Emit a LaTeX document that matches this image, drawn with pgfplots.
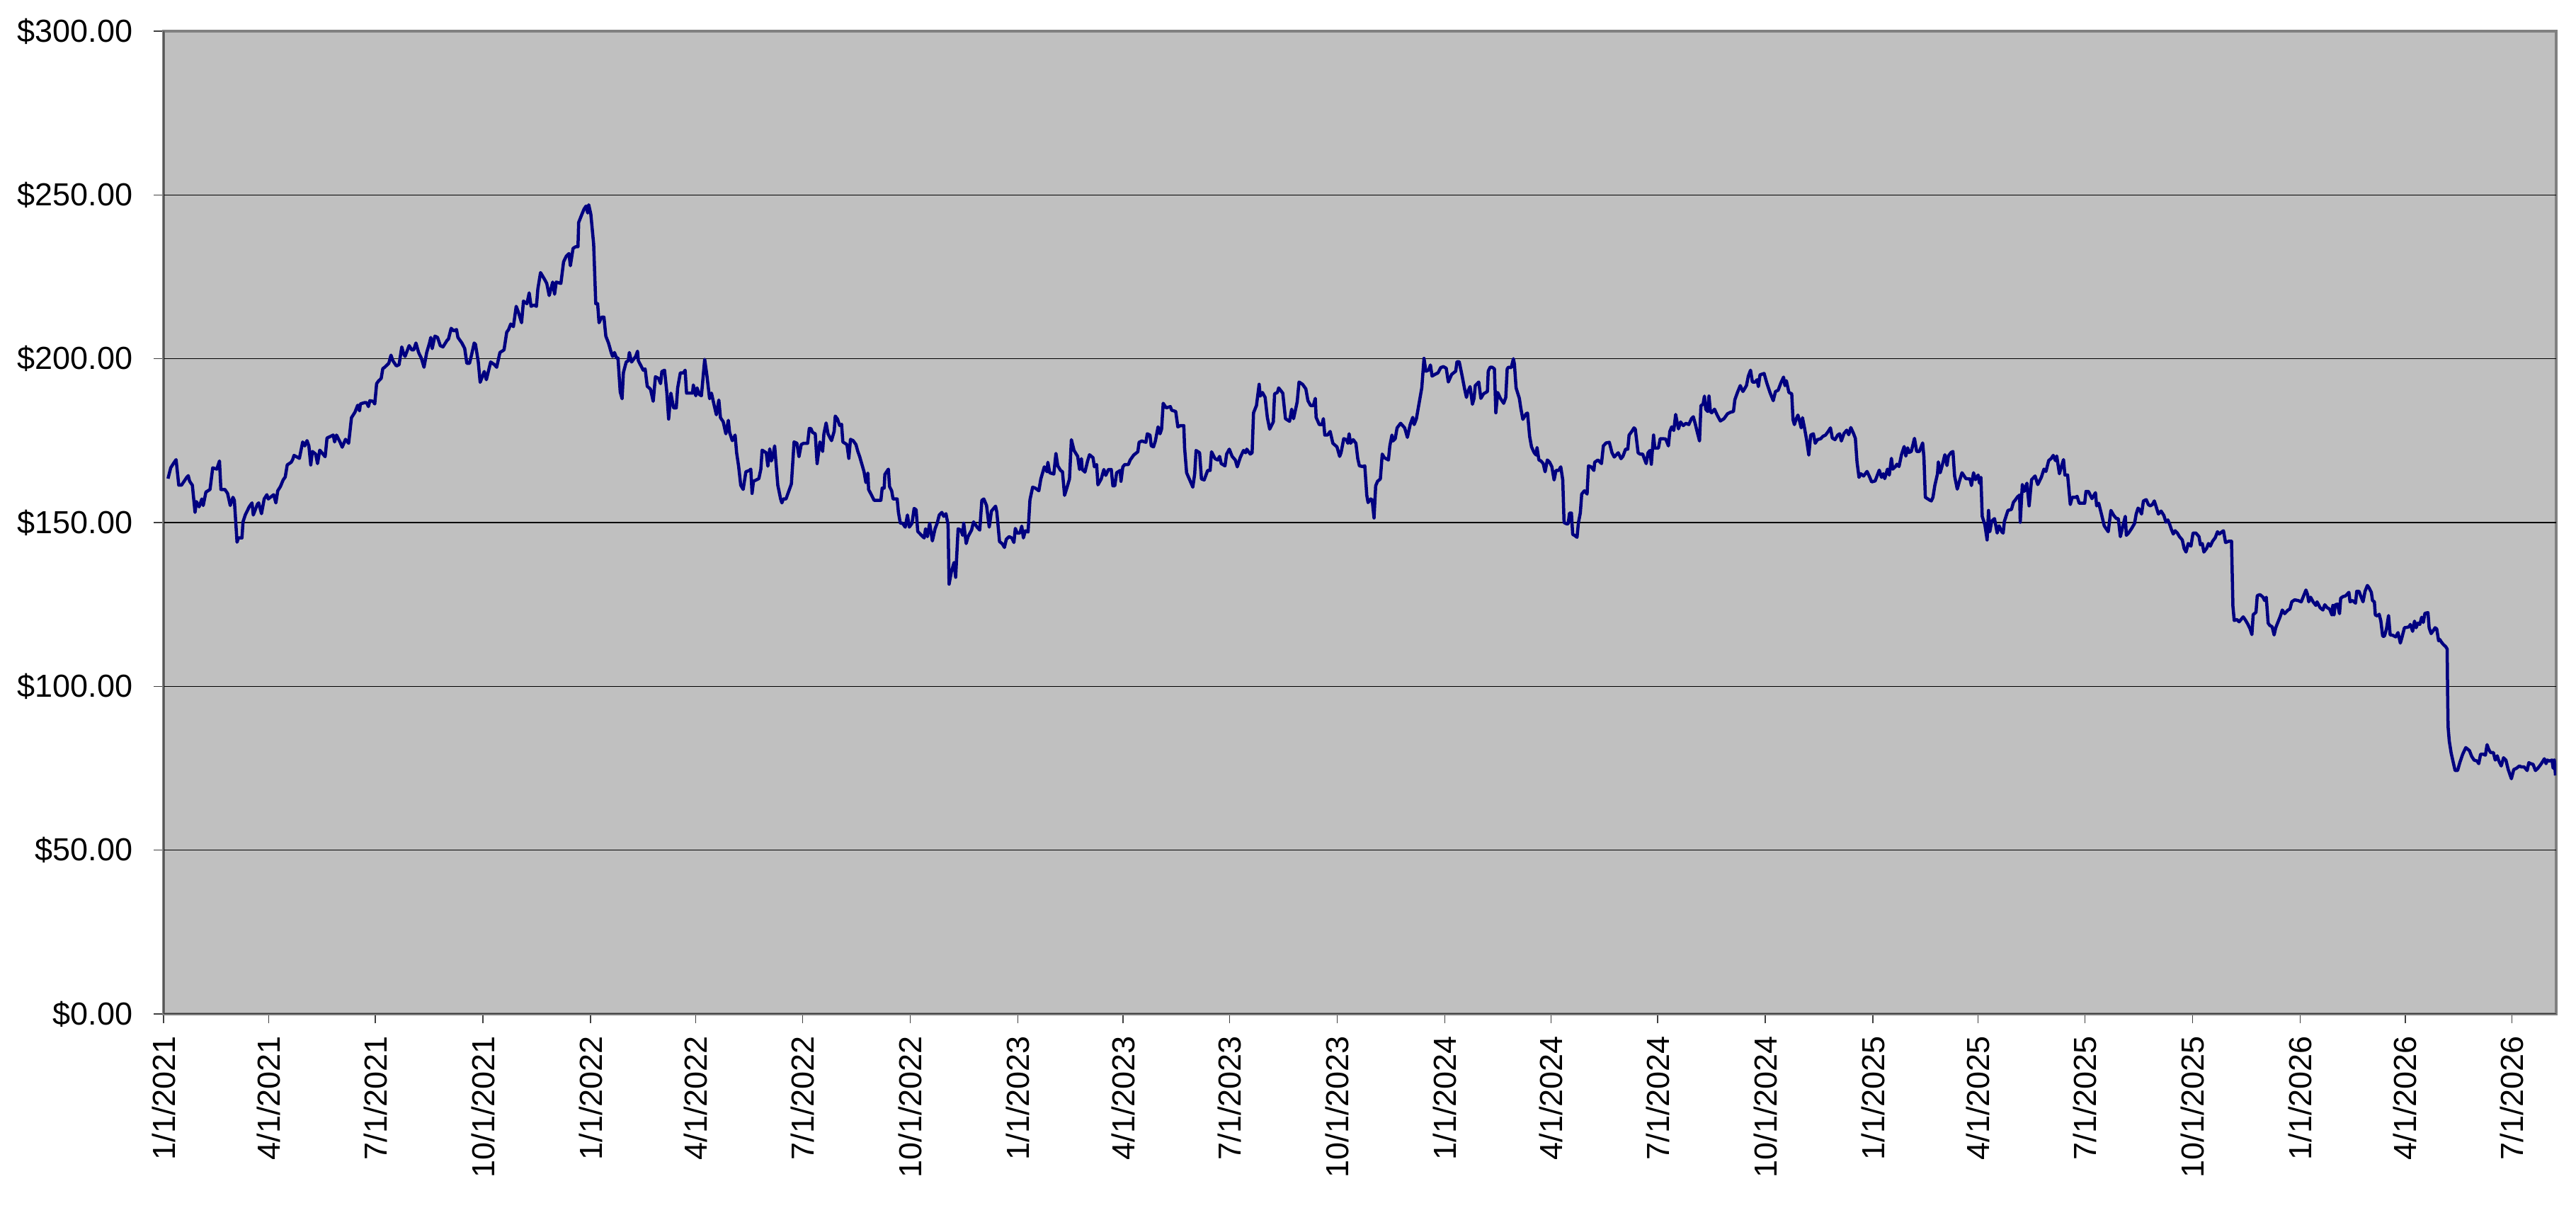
\documentclass[border=0pt]{standalone}
\usepackage{pgfplots}
\pgfplotsset{compat=1.18}
\usepackage{fontspec}
\setmainfont{Liberation Sans}
\definecolor{plotbg}{RGB}{192,192,192}
\definecolor{navyline}{RGB}{0,0,128}
\definecolor{framegray}{RGB}{128,128,128}
\begin{document}
\begin{tikzpicture}
\begin{axis}[
  scale only axis, width=675.8pt, height=277.6pt,
  xmin=0, xmax=2045, ymin=0, ymax=300,
  axis background/.style={fill=plotbg},
  axis line style={draw=framegray, line width=0.7pt},
  ytick={0,50,100,150,200,250,300},
  yticklabels={\$0.00,\$50.00,\$100.00,\$150.00,\$200.00,\$250.00,\$300.00},
  xtick={0,90,181,273,365,455,546,638,730,820,911,1003,1095,1186,1277,1369,1461,1551,1642,1734,1826,1916,2007},
  xticklabels={1/1/2021,4/1/2021,7/1/2021,10/1/2021,1/1/2022,4/1/2022,7/1/2022,10/1/2022,1/1/2023,4/1/2023,7/1/2023,10/1/2023,1/1/2024,4/1/2024,7/1/2024,10/1/2024,1/1/2025,4/1/2025,7/1/2025,10/1/2025,1/1/2026,4/1/2026,7/1/2026},
  x tick label style={rotate=90, anchor=east},
  tick align=outside, tick pos=left,
  major tick length=2.7pt,
  every tick/.append style={black!75, line width=0.25pt},
  extra y ticks={50,100,150,200,250},
  extra y tick labels={},
  extra y tick style={grid=major, major tick length=0pt},
  major grid style={black, line width=0.3pt},
  tick label style={font=\fontsize{9}{10}\selectfont},
  yticklabel style={xshift=-2.5pt},
]
\addplot[navyline, line width=0.9pt, line join=round, mark=none] table {
3.8 163.4
6.1 166.7
8.4 168.0
10.7 169.2
13.0 161.4
15.3 161.4
20.0 163.9
21.1 164.3
22.3 162.6
24.6 161.4
26.9 153.1
28.1 156.4
30.4 154.8
32.7 157.2
33.9 155.2
36.2 159.3
39.7 160.1
42.0 166.7
45.5 166.3
47.8 168.8
49.0 160.1
52.4 160.1
54.7 158.9
57.0 155.2
59.3 157.7
60.5 156.8
62.8 144.0
64.0 145.3
67.0 145.3
67.9 150.2
69.8 152.3
73.2 154.8
75.6 156.0
76.7 152.3
80.2 155.6
81.3 156.0
83.7 152.7
86.0 157.2
88.3 158.5
89.5 157.2
94.1 158.5
96.0 156.0
97.6 159.7
99.9 161.0
102.2 163.0
104.0 163.9
105.7 167.6
109.1 168.4
110.3 169.2
111.5 170.5
116.1 169.6
118.9 174.6
120.7 173.4
122.6 175.0
124.2 173.4
125.8 167.6
127.2 171.7
130.0 170.9
131.6 168.0
133.5 172.1
138.1 170.1
139.7 175.8
142.7 176.3
145.0 176.7
146.2 174.6
147.8 176.7
150.8 174.6
152.7 173.0
155.5 175.4
158.2 174.2
160.6 182.0
163.6 183.7
165.9 185.8
167.5 184.1
168.2 186.2
171.7 186.6
173.5 186.6
175.1 185.4
176.3 187.2
179.1 187.0
180.5 186.2
182.1 192.4
183.7 193.2
186.0 194.0
187.4 197.0
189.0 197.4
192.5 198.6
194.4 201.1
196.0 199.4
199.0 197.8
201.3 198.2
203.6 203.6
205.2 201.5
206.4 200.7
209.9 204.0
212.2 202.7
213.8 202.7
215.7 204.8
218.0 201.9
220.3 200.2
222.6 197.4
224.9 201.9
227.3 204.8
228.4 206.5
229.6 203.1
231.9 206.9
234.2 206.5
236.5 204.0
238.8 203.6
242.3 205.6
243.5 206.0
245.8 209.3
248.1 208.5
250.4 208.9
251.6 206.5
255.0 204.8
257.4 203.1
259.2 198.6
261.5 198.6
263.2 201.1
265.5 204.8
266.6 204.4
269.0 199.0
270.6 192.8
272.4 194.5
274.1 196.1
275.9 193.6
278.2 197.0
279.6 199.0
282.8 198.2
284.7 197.4
287.5 201.9
291.0 202.7
293.3 208.1
294.9 208.9
296.7 210.6
299.0 209.8
301.4 216.0
303.2 214.3
306.0 211.0
307.6 217.6
310.6 216.8
312.5 220.1
314.1 216.0
316.4 216.4
318.7 216.0
319.9 221.3
322.2 226.3
325.7 224.2
327.5 223.0
329.6 219.3
332.6 223.4
334.2 219.7
335.6 223.4
339.6 223.0
341.9 229.6
344.2 231.3
346.5 232.1
347.7 228.4
350.0 233.7
352.3 234.2
354.2 234.2
354.8 241.6
357.1 243.7
359.4 245.7
361.1 246.6
362.5 244.5
363.4 247.0
365.2 244.1
367.6 235.0
369.4 216.8
371.0 216.8
372.2 211.0
374.5 212.7
376.4 212.7
378.0 206.9
380.3 204.8
382.6 201.9
383.8 200.7
385.4 201.9
387.2 200.2
388.4 200.2
390.3 189.9
391.9 187.8
393.0 195.7
395.4 199.0
397.2 199.4
398.1 201.9
400.0 199.0
403.5 200.7
405.1 202.3
405.8 199.4
408.1 197.8
410.0 196.5
411.6 196.9
413.4 191.6
416.2 190.7
418.5 187.0
420.4 194.5
423.1 194.0
424.8 192.4
425.9 196.1
428.2 196.5
430.1 189.9
431.7 181.6
433.6 189.5
435.9 185.0
438.2 185.0
439.4 191.1
441.7 195.7
444.4 195.7
445.8 196.5
447.0 189.5
449.8 189.5
452.1 189.5
452.8 192.0
454.9 188.7
456.0 191.1
457.9 189.1
459.7 188.7
462.5 199.8
464.4 194.9
466.7 187.8
468.3 189.5
470.6 185.8
472.5 182.9
474.6 187.4
476.0 182.0
478.3 180.8
480.6 177.1
482.7 181.2
483.8 177.5
486.1 175.0
488.5 176.7
489.8 171.3
491.5 167.2
493.3 161.4
495.4 160.1
497.7 165.5
500.7 165.9
501.9 166.3
503.0 158.9
504.2 162.6
508.8 163.4
510.5 166.3
511.6 172.1
515.1 171.3
516.5 167.2
518.1 172.5
519.5 168.8
520.9 170.5
522.3 173.4
525.0 161.4
527.4 157.2
528.5 156.0
529.7 157.2
532.0 157.2
536.6 161.8
538.9 174.6
541.3 174.2
543.1 170.1
545.0 173.8
547.1 174.2
550.5 174.2
551.9 178.7
553.3 178.7
554.7 177.5
557.0 177.1
558.6 168.0
561.0 174.6
563.3 171.7
564.4 177.1
566.3 180.4
567.9 177.1
570.9 175.0
573.2 177.9
574.1 182.5
576.0 181.6
577.9 179.6
579.5 180.0
580.6 174.6
584.1 173.8
585.7 169.6
587.1 175.4
589.4 175.0
591.8 173.8
593.4 171.7
595.0 170.1
598.7 165.5
600.3 162.2
602.0 165.1
602.6 160.1
604.9 158.5
607.3 156.8
609.6 156.8
613.1 156.8
614.2 160.5
615.9 160.5
616.5 164.7
619.5 166.3
620.5 161.0
622.3 159.7
623.5 157.2
627.0 157.2
628.1 153.1
629.7 149.8
631.6 149.8
633.9 148.6
635.8 152.3
637.4 148.6
639.7 149.8
641.5 154.3
643.2 153.9
644.6 147.3
647.8 146.1
650.1 145.3
651.3 148.1
652.9 145.7
654.8 149.8
657.1 144.4
659.4 148.1
661.2 149.8
663.0 152.3
665.2 153.1
666.8 151.9
668.7 152.7
670.5 149.4
671.4 131.2
673.3 134.9
675.6 137.8
677.0 133.3
679.1 148.1
681.4 147.7
683.0 146.1
683.9 149.8
686.0 143.6
687.6 145.7
690.6 147.7
692.3 150.2
695.3 148.6
697.6 147.7
699.4 156.8
701.1 157.2
703.4 155.2
705.7 148.6
707.6 153.5
711.1 155.0
712.2 153.2
714.5 144.2
716.9 143.5
718.7 142.4
720.3 144.9
722.7 145.7
725.0 145.3
726.8 143.9
728.0 148.2
729.6 146.8
731.9 146.8
733.5 148.9
734.9 145.3
736.6 147.5
738.9 147.1
740.5 156.9
742.8 160.8
745.1 160.5
748.1 159.7
749.8 163.3
752.8 167.0
755.1 165.5
755.8 168.4
757.4 165.2
760.9 164.8
762.7 171.1
764.3 167.3
766.7 165.9
768.3 165.5
770.1 158.3
772.0 160.5
774.3 163.3
775.9 175.3
778.2 172.0
781.3 170.2
782.9 166.2
784.5 169.5
785.2 166.2
787.5 165.4
789.8 168.8
791.4 170.7
794.4 169.8
795.6 167.0
797.5 167.7
798.6 161.5
801.4 163.3
803.7 166.2
805.3 164.4
807.6 166.2
810.0 166.2
811.4 161.2
813.0 161.2
814.6 165.2
817.6 165.9
818.3 162.6
819.9 167.0
821.5 167.7
824.6 167.7
826.2 169.1
829.2 170.6
832.7 171.6
833.8 174.5
836.1 174.9
839.6 174.5
840.8 177.1
843.1 176.7
844.2 173.4
846.1 173.1
847.7 174.9
850.0 179.2
851.7 177.1
853.0 178.5
854.4 186.4
857.0 185.0
860.5 185.4
861.6 184.3
865.1 183.9
866.9 179.2
869.3 179.6
872.0 179.6
872.7 172.7
874.4 165.2
876.7 163.3
879.7 160.8
881.3 164.8
882.5 172.0
885.5 171.3
887.1 163.3
889.4 163.0
892.4 165.9
894.5 165.9
895.7 171.6
898.7 169.5
901.0 169.1
902.6 170.2
904.0 168.0
907.2 167.3
908.6 170.9
910.9 172.4
913.3 170.2
916.0 169.1
917.7 167.0
920.2 169.8
923.0 172.0
924.8 171.3
925.8 172.4
928.8 170.9
930.4 171.3
931.6 183.5
934.1 185.7
936.4 192.2
937.3 188.6
939.2 189.7
941.5 188.2
943.4 182.1
945.4 178.5
948.5 180.7
949.6 189.3
952.0 189.7
953.1 191.1
956.6 189.5
958.9 181.7
962.4 180.9
964.2 184.6
965.8 181.7
968.9 186.8
970.5 192.9
973.5 192.2
976.3 190.8
978.1 187.2
980.4 185.7
982.7 185.7
984.4 187.9
985.1 182.1
987.8 179.9
990.1 179.9
991.3 181.7
992.5 176.7
994.8 176.7
997.1 177.8
999.4 174.2
1002.9 173.1
1005.2 170.2
1006.4 171.3
1008.7 175.6
1011.0 175.3
1012.2 174.2
1013.3 177.1
1014.5 174.2
1016.8 175.3
1019.1 174.2
1020.7 169.5
1022.1 167.3
1024.9 167.1
1026.7 167.3
1028.4 158.3
1029.5 156.1
1031.8 157.2
1033.0 156.9
1034.6 151.4
1036.0 161.2
1037.6 162.6
1040.0 163.3
1041.6 170.9
1043.4 169.8
1046.9 169.1
1048.1 173.4
1049.9 176.7
1050.8 174.9
1052.7 175.6
1054.3 178.9
1057.3 180.3
1060.8 178.9
1063.1 176.0
1065.5 179.9
1067.7 182.1
1068.9 179.9
1070.8 181.7
1073.1 186.4
1075.4 191.1
1077.3 200.1
1078.9 196.2
1081.2 196.5
1082.8 198.1
1084.2 194.7
1086.5 195.2
1089.3 195.7
1091.6 197.3
1093.9 197.6
1096.3 197.1
1098.1 192.9
1100.9 195.2
1104.4 196.2
1105.5 199.1
1107.4 199.1
1109.7 195.1
1112.0 190.8
1113.6 188.2
1114.8 190.0
1116.7 191.5
1118.7 186.1
1120.1 187.9
1121.1 191.8
1124.1 192.9
1125.9 187.9
1128.2 189.3
1131.5 190.0
1132.2 196.2
1133.8 197.4
1135.6 197.4
1137.5 196.9
1138.7 183.5
1140.3 189.7
1142.6 187.9
1145.4 186.4
1147.2 188.2
1148.4 196.9
1149.5 197.4
1151.9 197.3
1153.7 200.0
1154.6 198.3
1156.0 191.1
1158.8 187.9
1160.0 185.0
1161.8 181.5
1164.6 183.2
1165.8 183.4
1167.6 176.3
1169.2 173.1
1171.5 171.3
1173.2 170.6
1173.9 172.9
1175.5 169.1
1177.3 168.8
1179.2 168.0
1180.8 165.5
1182.7 169.1
1184.7 168.4
1186.6 167.0
1188.5 163.0
1190.1 165.9
1192.4 165.9
1194.2 167.0
1195.9 163.0
1197.0 150.0
1199.3 149.6
1200.5 149.6
1201.7 152.9
1203.3 152.9
1204.4 146.4
1206.3 146.0
1208.1 145.5
1209.3 150.0
1210.9 152.9
1212.1 158.7
1214.4 159.7
1216.7 158.7
1217.9 167.3
1220.2 167.0
1222.5 165.9
1223.2 168.4
1224.8 168.8
1226.0 169.1
1229.0 168.0
1230.6 173.4
1232.9 174.3
1235.7 174.5
1238.0 171.3
1239.9 170.0
1243.3 171.3
1245.7 169.5
1247.3 170.2
1249.6 172.4
1251.5 172.4
1252.6 176.7
1254.9 177.8
1256.8 178.9
1257.9 178.5
1260.3 171.3
1261.9 170.9
1264.2 170.9
1265.3 169.8
1267.2 168.0
1268.8 171.3
1270.4 172.0
1271.6 167.8
1273.5 176.7
1274.6 172.7
1277.6 172.7
1279.2 175.6
1281.6 175.6
1283.9 175.5
1286.2 173.4
1287.4 177.8
1289.0 179.2
1290.8 178.1
1292.4 183.0
1293.6 180.7
1294.8 178.6
1296.6 180.7
1298.9 179.6
1301.2 180.3
1303.6 179.9
1305.9 181.7
1307.5 182.3
1309.3 179.9
1310.5 178.1
1312.8 174.9
1314.0 185.7
1315.8 186.1
1317.0 188.6
1318.1 184.6
1319.8 183.9
1320.9 188.6
1322.1 183.9
1323.2 183.5
1325.6 184.6
1327.9 182.8
1330.6 181.0
1333.7 181.7
1336.7 183.2
1339.5 183.7
1341.8 183.9
1343.0 187.5
1345.2 189.7
1347.6 191.8
1349.9 190.0
1352.9 191.8
1354.5 194.7
1356.4 196.5
1358.0 192.9
1360.3 192.9
1362.0 193.6
1363.1 191.5
1364.5 195.1
1368.0 195.5
1370.3 192.6
1373.0 189.7
1375.8 187.2
1377.7 190.0
1380.0 190.4
1382.3 192.6
1384.6 194.4
1385.8 191.8
1387.0 193.3
1389.2 189.7
1391.6 189.3
1392.7 181.4
1393.9 179.9
1395.5 181.7
1396.9 182.8
1398.5 180.7
1399.7 178.9
1400.8 182.0
1402.5 178.9
1404.3 175.3
1406.2 170.6
1407.8 176.7
1410.1 177.1
1411.7 174.2
1413.6 175.3
1416.4 175.6
1418.2 176.3
1420.5 176.7
1422.8 177.8
1424.7 178.9
1426.3 175.8
1428.6 175.3
1430.9 176.7
1432.6 177.1
1434.0 174.9
1436.3 177.2
1438.6 178.2
1440.3 176.8
1442.1 179.0
1444.4 177.2
1446.0 175.7
1447.4 168.5
1449.1 163.8
1450.7 164.9
1453.0 164.2
1456.0 165.6
1458.3 163.8
1459.9 162.4
1462.9 162.7
1466.4 166.0
1468.3 163.8
1469.9 164.9
1471.1 163.4
1473.4 166.3
1475.0 164.5
1476.8 169.6
1478.0 166.3
1480.3 167.1
1481.5 167.8
1483.3 167.1
1485.4 170.7
1487.7 173.2
1489.1 170.3
1490.7 172.8
1491.9 171.4
1493.8 171.7
1496.5 175.7
1498.4 171.7
1500.7 171.7
1503.5 174.3
1504.6 169.9
1505.8 157.7
1509.3 156.9
1510.9 156.6
1512.3 157.7
1513.9 161.3
1516.2 164.9
1516.9 168.5
1518.5 165.2
1520.2 167.4
1522.5 170.7
1524.3 167.4
1525.5 170.3
1527.8 171.4
1529.4 171.7
1530.8 164.2
1533.1 160.2
1535.0 162.7
1537.1 165.2
1540.5 163.4
1544.0 163.3
1545.2 161.3
1547.0 165.2
1548.6 163.1
1550.9 164.5
1552.1 162.0
1553.3 163.8
1554.4 151.9
1556.7 149.3
1558.6 144.7
1559.8 153.7
1560.9 147.2
1562.5 150.4
1564.9 151.2
1567.2 146.8
1568.8 149.0
1571.1 147.2
1572.3 146.8
1573.4 150.4
1576.4 153.7
1579.4 154.0
1581.1 156.2
1582.7 156.9
1584.5 157.8
1586.4 158.4
1586.9 150.1
1588.7 161.6
1590.3 159.5
1592.6 162.0
1594.5 155.1
1596.6 163.1
1599.6 164.2
1601.9 161.6
1604.9 163.8
1607.2 166.3
1608.9 165.6
1611.2 168.9
1613.5 169.6
1615.1 170.5
1617.0 168.9
1618.1 170.3
1620.4 164.9
1622.1 167.1
1623.9 169.2
1625.1 164.5
1627.4 164.5
1629.7 155.5
1631.3 157.7
1634.3 157.7
1635.5 158.0
1637.3 155.9
1640.1 155.9
1642.0 155.9
1643.1 159.5
1645.2 159.5
1648.2 157.3
1651.2 159.1
1652.2 155.1
1654.0 155.9
1656.3 152.6
1658.7 149.0
1662.1 147.2
1664.4 153.7
1666.8 152.2
1669.1 151.2
1670.7 151.2
1672.5 145.7
1674.4 148.6
1676.7 151.9
1677.6 146.1
1679.5 146.8
1682.3 148.3
1684.6 149.7
1686.0 152.6
1687.6 154.4
1688.8 154.0
1690.6 152.6
1692.2 156.6
1694.6 157.0
1696.4 155.5
1698.0 155.1
1699.9 155.5
1701.5 156.6
1703.1 154.8
1705.0 152.6
1707.3 153.5
1709.6 152.2
1711.5 150.1
1713.1 150.8
1714.7 149.4
1716.1 147.9
1717.7 146.5
1719.3 147.5
1721.2 146.8
1723.0 145.7
1725.4 144.7
1727.0 142.1
1728.6 141.0
1730.5 143.6
1732.8 142.8
1734.6 146.8
1737.0 146.8
1739.7 145.7
1740.9 143.2
1742.5 143.6
1743.9 141.0
1746.2 142.1
1747.8 143.6
1749.4 142.8
1751.3 144.3
1753.6 145.4
1755.5 147.2
1757.1 146.5
1759.4 147.2
1760.6 147.5
1762.4 143.9
1765.2 144.3
1767.5 144.3
1768.7 124.4
1769.8 120.1
1772.1 120.4
1774.0 119.7
1775.6 120.4
1777.5 121.2
1779.1 120.4
1781.4 119.0
1783.3 117.6
1784.9 115.8
1786.0 121.9
1788.4 122.6
1789.5 127.7
1791.8 128.0
1794.2 127.3
1795.8 126.2
1797.2 127.2
1798.8 119.3
1800.2 118.6
1802.2 118.2
1803.9 115.7
1805.3 117.9
1807.3 119.7
1809.3 121.5
1810.9 123.3
1812.9 122.2
1815.8 123.3
1817.4 123.6
1819.0 125.8
1821.4 126.4
1824.4 126.2
1827.1 125.8
1829.1 127.6
1831.1 129.4
1832.5 128.0
1833.5 125.8
1835.1 127.2
1837.2 125.8
1839.6 124.7
1840.6 125.8
1843.2 124.0
1845.6 123.3
1847.2 124.9
1849.3 124.0
1851.3 123.6
1853.3 121.8
1854.1 124.7
1855.1 121.8
1856.1 124.9
1858.1 125.1
1859.8 122.2
1860.8 126.9
1862.8 127.4
1864.8 127.6
1866.8 128.3
1867.8 128.7
1868.8 125.8
1870.9 126.2
1873.5 125.4
1874.5 129.0
1876.5 129.0
1877.9 127.6
1879.9 125.8
1881.6 129.0
1883.6 130.8
1885.0 130.1
1887.0 128.7
1888.0 126.2
1889.6 125.8
1890.4 121.8
1892.0 121.5
1893.7 122.0
1895.1 120.0
1896.7 115.3
1898.1 115.3
1899.1 116.4
1900.1 117.9
1901.7 121.6
1903.1 115.7
1905.2 115.6
1907.8 115.1
1909.8 116.4
1911.8 113.2
1913.2 115.0
1915.3 117.9
1917.3 118.0
1919.3 118.2
1920.3 118.9
1922.3 116.8
1923.9 119.9
1925.3 117.9
1926.8 119.3
1928.4 118.9
1930.0 121.1
1931.4 119.5
1932.8 122.3
1935.4 122.5
1936.4 117.9
1938.1 116.1
1940.1 117.1
1941.5 117.9
1942.9 117.5
1944.5 113.9
1945.5 114.3
1946.9 113.5
1948.5 112.8
1950.6 112.1
1951.8 111.4
1952.2 97.7
1952.6 87.6
1953.6 83.3
1955.2 79.7
1957.0 76.8
1958.6 74.3
1960.7 74.3
1962.7 76.8
1965.1 79.3
1967.7 81.3
1970.8 80.4
1972.8 78.6
1974.8 77.5
1977.4 77.2
1978.8 76.4
1980.4 79.3
1982.5 79.3
1984.5 79.0
1985.9 82.2
1987.3 80.8
1988.9 79.8
1991.3 79.8
1992.9 77.5
1994.6 78.8
1996.0 77.2
1998.0 75.7
2000.0 78.2
2002.0 77.5
2004.0 74.6
2006.7 71.8
2008.7 74.6
2011.1 75.0
2013.5 75.7
2015.2 75.4
2017.6 75.4
2020.2 74.3
2021.6 76.7
2023.2 76.4
2025.2 76.2
2027.3 74.3
2029.3 75.0
2031.7 76.1
2033.7 77.2
2034.9 77.9
2036.3 76.4
2037.4 77.5
2039.0 77.2
2041.4 77.5
2042.4 75.0
2043.4 77.5
2044.4 72.8
};
\draw[black!80, line width=0.5pt] (rel axis cs:0,1) -- (rel axis cs:0,0) -- (rel axis cs:1,0);
\end{axis}
\path ([xshift=-46.2pt,yshift=-58.2pt]current axis.south west) rectangle ([xshift=5.6pt,yshift=8.8pt]current axis.north east);
\end{tikzpicture}
\end{document}
